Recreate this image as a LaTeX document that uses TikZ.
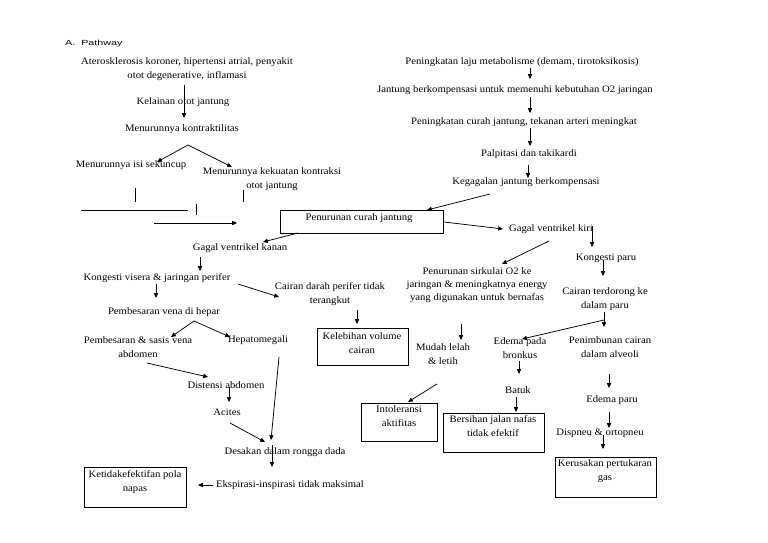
\documentclass[tikz,border=0pt]{standalone}
\usepackage{fontspec}
\setmainfont{Liberation Serif}[FakeStretch=1.08]
\newfontfamily\titlefont{Liberation Sans}[FakeStretch=1.45]
\usetikzlibrary{arrows.meta}
\begin{document}
\begin{tikzpicture}[x=1pt,y=-1pt,
  txt/.style={font=\fontsize{9.9}{14}\selectfont, inner sep=0pt, align=center},
  boxframe/.style={draw, line width=0.8pt, inner sep=0pt, anchor=north west},
  arr/.style={-{Triangle[length=4.8pt,width=4.2pt]}, line width=0.75pt},
  ln/.style={line width=0.75pt}]
\useasboundingbox[fill=white] (0,0) rectangle (768,543);

% title
\node[font=\titlefont\fontsize{7.4}{9}\selectfont, inner sep=0pt, anchor=west] (title) at (65,44) {A.\hspace{6pt}Pathway};

% ---------- left branch ----------
\node[txt] (atero) at (187,69.5) {Aterosklerosis koroner, hipertensi atrial, penyakit\\otot degenerative, inflamasi};
\node[txt] (kelainan) at (183,102) {Kelainan otot jantung};
\node[txt] (kontr) at (182,129) {Menurunnya kontraktilitas};
\node[txt] (isi) at (131,165) {Menurunnya isi sekuncup};
\node[txt] (kekuatan) at (272,179) {Menurunnya kekuatan kontraksi\\otot jantung};

\node[boxframe, minimum width=163pt, minimum height=23pt] (penbox) at (280,210) {};
\node[txt] (pen) at (359,218) {Penurunan curah jantung};

\node[txt] (gkanan) at (240,248) {Gagal ventrikel kanan};
\node[txt] (kviser) at (157,278) {Kongesti visera \& jaringan perifer};
\node[txt] (cdarah) at (330,294) {Cairan darah perifer tidak\\terangkut};
\node[boxframe, minimum width=91pt, minimum height=37pt] (kelbox) at (317,328) {};
\node[txt] (kel) at (362,343) {Kelebihan volume\\cairan};
\node[txt] (pvena) at (164,312) {Pembesaran vena di hepar};
\node[txt] (psasis) at (138,347.5) {Pembesaran \& sasis vena\\abdomen};
\node[txt] (hepato) at (258,340) {Hepatomegali};
\node[txt] (dist) at (226,385) {Distensi abdomen};
\node[txt] (acites) at (227,412) {Acites};
\node[txt] (desak) at (285,452) {Desakan dalam rongga dada};
\node[txt] (eksp) at (290,485) {Ekspirasi-inspirasi tidak maksimal};
\node[boxframe, minimum width=102pt, minimum height=40pt] (ketbox) at (84,467) {};
\node[txt] (ket) at (135,482.5) {Ketidakefektifan pola\\napas};

% ---------- right branch ----------
\node[txt] (laju) at (522,62) {Peningkatan laju metabolisme (demam, tirotoksikosis)};
\node[txt] (jkomp) at (515,90) {Jantung berkompensasi untuk memenuhi kebutuhan O2 jaringan};
\node[txt] (pcurah) at (524,122) {Peningkatan curah jantung, tekanan arteri meningkat};
\node[txt] (palp) at (529,154) {Palpitasi dan takikardi};
\node[txt] (kegagalan) at (526,182) {Kegagalan jantung berkompensasi};
\node[txt] (gkiri) at (551,229) {Gagal ventrikel kiri};
\node[txt] (kparu) at (606,258) {Kongesti paru};
\node[txt, font=\fontsize{9.9}{13}\selectfont] (sirk) at (477,285) {Penurunan sirkulai O2 ke\\jaringan \& meningkatnya energy\\yang digunakan untuk bernafas};
\node[txt] (cter) at (605,299) {Cairan terdorong ke\\dalam paru};
\node[txt] (mudah) at (443,354) {Mudah lelah\\\& letih};
\node[txt] (ebron) at (520,348.5) {Edema pada\\bronkus};
\node[txt] (penimb) at (610,347) {Penimbunan cairan\\dalam alveoli};
\node[boxframe, minimum width=76pt, minimum height=38pt] (intbox) at (361,403) {};
\node[txt] (int) at (399,416.5) {Intoleransi\\aktifitas};
\node[txt] (batuk) at (518,390) {Batuk};
\node[boxframe, minimum width=101pt, minimum height=39pt] (berbox) at (443,413) {};
\node[txt] (ber) at (493,426.5) {Bersihan jalan nafas\\tidak efektif};
\node[txt] (eparu) at (612,400) {Edema paru};
\node[txt] (disp) at (600,433) {Dispneu \& ortopneu};
\node[boxframe, minimum width=101pt, minimum height=40pt] (kerbox) at (555,457) {};
\node[txt] (ker) at (605,471) {Kerusakan pertukaran\\gas};

% ---------- coordinates for free ends ----------
\coordinate (a1s) at (184,85);   \coordinate (a1e) at (184,118);
\coordinate (kbr) at (188,145);  \coordinate (kbrL) at (157,162); \coordinate (kbrR) at (232,167);
\coordinate (v1s) at (135,188);  \coordinate (v1e) at (135,202);
\coordinate (v2s) at (243,190);  \coordinate (v2e) at (243,202);
\coordinate (v3s) at (196,204);  \coordinate (v3e) at (196,215);
\coordinate (h1s) at (81,210);   \coordinate (h1e) at (188,210);
\coordinate (h2s) at (154,223);  \coordinate (h2e) at (237,223);
\coordinate (kgs) at (490,194);  \coordinate (kge) at (427,210);
\coordinate (pbr) at (444,222);  \coordinate (gkr) at (503,229);
\coordinate (pbl) at (298,233);  \coordinate (gkl) at (263,242);
\coordinate (gk1) at (200,257);  \coordinate (gk2) at (200,271);
\coordinate (kv1) at (156,284);  \coordinate (kv2) at (156,298);
\coordinate (kv3) at (238,284);  \coordinate (kv4) at (279,297);
\coordinate (cd1) at (357,310);  \coordinate (cd2) at (357,324);
\coordinate (pv) at (194,321);   \coordinate (pvL) at (171,337); \coordinate (pvR) at (230,337);
\coordinate (ps1) at (147,363);  \coordinate (ps2) at (208,377);
\coordinate (di1) at (229,387);  \coordinate (di2) at (229,402);
\coordinate (ac1) at (230,423);  \coordinate (ac2) at (265,442);
\coordinate (he1) at (279,357);  \coordinate (he2) at (271,440);
\coordinate (de1) at (272,445);  \coordinate (de2) at (272,467);
\coordinate (ek1) at (213,485);  \coordinate (ek2) at (198,485);
\coordinate (r1s) at (530,68);   \coordinate (r1e) at (530,79);
\coordinate (r2s) at (530,97);   \coordinate (r2e) at (530,113);
\coordinate (r3s) at (530,128);  \coordinate (r3e) at (530,146);
\coordinate (r4s) at (528,165);  \coordinate (r4e) at (528,178);
\coordinate (gq1) at (592,226);  \coordinate (gq2) at (592,247);
\coordinate (gq3) at (549,241);  \coordinate (gq4) at (502,264);
\coordinate (kp1) at (603,260);  \coordinate (kp2) at (603,276);
\coordinate (ct1) at (604,312);  \coordinate (ct2) at (604,327);
\coordinate (ct3) at (604,320);  \coordinate (ct4) at (522,339);
\coordinate (si1) at (461,324);  \coordinate (si2) at (461,340);
\coordinate (mu1) at (437,384);  \coordinate (mu2) at (408,402);
\coordinate (eb1) at (519,361);  \coordinate (eb2) at (519,374);
\coordinate (bt1) at (516,397);  \coordinate (bt2) at (516,412);
\coordinate (pn1) at (609,374);  \coordinate (pn2) at (609,388);
\coordinate (ep1) at (609,412);  \coordinate (ep2) at (609,428);
\coordinate (ds1) at (603,435);  \coordinate (ds2) at (603,449);

% ---------- connectors ----------
\draw[arr] (a1s) -- (a1e);
\draw[arr] (kbr) -- (kbrL);
\draw[arr] (kbr) -- (kbrR);
\draw[ln] (v1s) -- (v1e);
\draw[ln] (v2s) -- (v2e);
\draw[ln] (v3s) -- (v3e);
\draw[ln] (h1s) -- (h1e);
\draw[arr] (h2s) -- (h2e);
\draw[arr] (kgs) -- (kge);
\draw[arr] (pbr) -- (gkr);
\draw[arr] (pbl) -- (gkl);
\draw[arr] (gk1) -- (gk2);
\draw[arr] (kv1) -- (kv2);
\draw[arr] (kv3) -- (kv4);
\draw[arr] (cd1) -- (cd2);
\draw[arr] (pv) -- (pvL);
\draw[arr] (pv) -- (pvR);
\draw[arr] (ps1) -- (ps2);
\draw[arr] (di1) -- (di2);
\draw[arr] (ac1) -- (ac2);
\draw[arr] (he1) -- (he2);
\draw[arr] (de1) -- (de2);
\draw[arr] (ek1) -- (ek2);
\draw[arr] (r1s) -- (r1e);
\draw[arr] (r2s) -- (r2e);
\draw[arr] (r3s) -- (r3e);
\draw[arr] (r4s) -- (r4e);
\draw[arr] (gq1) -- (gq2);
\draw[arr] (gq3) -- (gq4);
\draw[arr] (kp1) -- (kp2);
\draw[arr] (ct1) -- (ct2);
\draw[arr] (ct3) -- (ct4);
\draw[arr] (si1) -- (si2);
\draw[arr] (mu1) -- (mu2);
\draw[arr] (eb1) -- (eb2);
\draw[arr] (bt1) -- (bt2);
\draw[arr] (pn1) -- (pn2);
\draw[arr] (ep1) -- (ep2);
\draw[arr] (ds1) -- (ds2);
\end{tikzpicture}
\end{document}
